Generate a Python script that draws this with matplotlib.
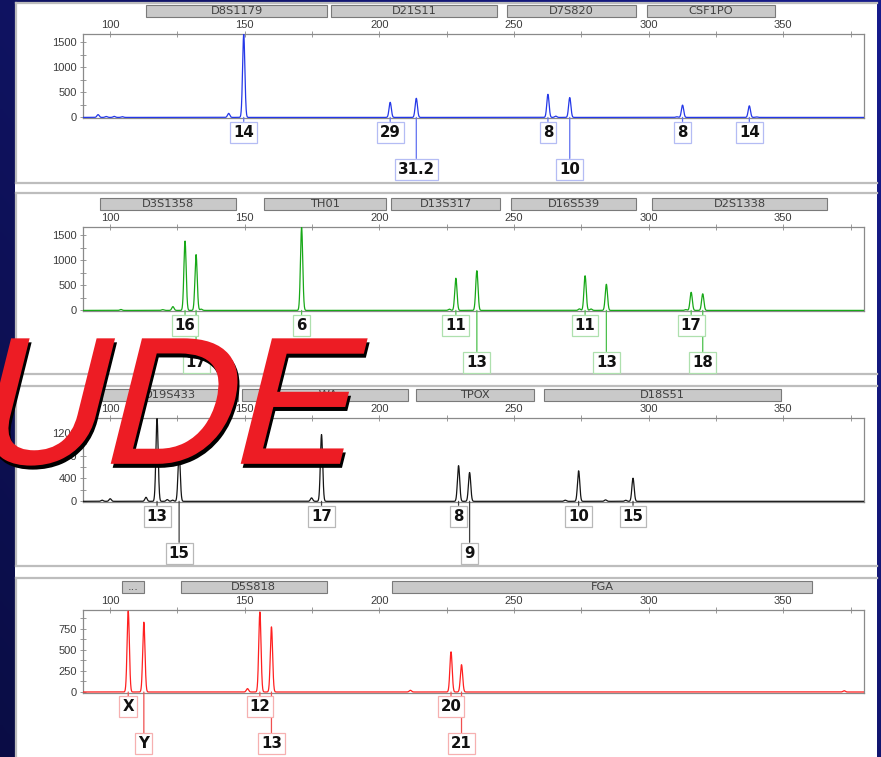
import numpy as np
import matplotlib.pyplot as plt
from matplotlib.patches import Rectangle, PathPatch
from matplotlib.lines import Line2D
from matplotlib.textpath import TextPath
from matplotlib.font_manager import FontProperties
import matplotlib.transforms as mtransforms

W, H = 881, 757

# ---- data: size range, peaks (bp, RFU), allele calls, marker bins ----
x_range = (89.9, 380.0)

blue_peaks = [149.6, 204.0, 213.7, 262.6, 270.7, 312.6, 337.4]
blue_heights = [1650, 300, 380, 460, 395, 245, 230]
blue_alleles = ['14', '29', '31.2', '8', '10', '8', '14']
blue_rows = [0, 0, 1, 0, 1, 0, 0]
blue_minor = [95.5, 98.5, 101.5, 104.5, 144.0, 265.5, 310.5, 340.0]
blue_minor_h = [55, 18, 20, 14, 80, 25, 12, 10]
blue_markers = ['D8S1179', 'D21S11', 'D7S820', 'CSF1PO']
blue_bins = [(113.3, 180.7), (182.2, 243.7), (247.4, 295.2), (299.3, 347.0)]

green_peaks = [127.8, 131.9, 171.1, 228.4, 236.2, 276.4, 284.3, 315.8, 320.1]
green_heights = [1380, 1110, 1650, 640, 790, 690, 520, 360, 330]
green_alleles = ['16', '17', '6', '11', '13', '11', '13', '17', '18']
green_rows = [0, 1, 0, 0, 1, 0, 1, 0, 1]
green_minor = [104.0, 119.5, 123.3, 133.8, 226.0, 274.3, 278.6, 313.8]
green_minor_h = [18, 15, 75, 25, 25, 30, 28, 15]
green_markers = ['D3S1358', 'TH01', 'D13S317', 'D16S539', 'D2S1338']
green_bins = [(96.3, 146.7), (157.0, 202.6), (204.4, 244.8), (249.0, 295.3), (301.2, 366.4)]

black_peaks = [117.4, 125.6, 178.5, 229.4, 233.5, 274.0, 294.2]
black_heights = [1450, 850, 1170, 625, 505, 535, 405]
black_alleles = ['13', '15', '17', '8', '9', '10', '15']
black_rows = [0, 1, 0, 0, 1, 0, 0]
black_minor = [97.0, 100.0, 113.3, 121.2, 123.2, 174.8, 269.0, 284.0, 291.5]
black_minor_h = [20, 45, 70, 30, 20, 60, 20, 25, 18]
black_markers = ['D19S433', 'vWA', 'TPOX', 'D18S51']
black_bins = [(97.0, 147.4), (148.9, 210.7), (213.7, 257.4), (261.1, 349.3)]

red_peaks = [106.7, 112.5, 155.6, 159.9, 226.6, 230.5]
red_heights = [960, 828, 950, 773, 477, 324]
red_alleles = ['X', 'Y', '12', '13', '20', '21']
red_rows = [0, 1, 0, 1, 0, 1]
red_minor = [151.0, 211.5, 372.6]
red_minor_h = [40, 20, 15]
red_markers = ['...', 'D5S818', 'FGA']
red_bins = [(104.4, 112.6), (126.3, 180.4), (204.8, 360.7)]

# pixel layout of the four plot areas (top, bottom) and their y scales
panel_px = [(34, 118), (227, 311), (418, 502), (610, 693)]
y_tops = [1660, 1660, 1460, 973]
y_major = [[0, 500, 1000, 1500], [0, 500, 1000, 1500],
           [0, 400, 800, 1200], [0, 250, 500, 750]]
y_minor = [[250, 750, 1250], [250, 750, 1250],
           [200, 600, 1000, 1400], [125, 375, 625, 875]]
frames = [(3, 183), (193, 374), (386, 566), (578, 760)]
ax_left, ax_right = 83, 864


def fig_rect(x0, y0, x1, y1):
    # pixel box (top-left origin) -> figure fraction rect
    return [x0 / W, 1 - y1 / H, (x1 - x0) / W, (y1 - y0) / H]


fig = plt.figure(figsize=(W / 100, H / 100), dpi=100)

# navy slide background
bg = fig.add_axes([0, 0, 1, 1], zorder=-10)
gx = np.linspace(0, 1, 256)
gy = np.linspace(0, 1, 256)
GX, GY = np.meshgrid(gx, gy)
c0 = np.array([0.04, 0.05, 0.27])
c1 = np.array([0.09, 0.11, 0.55])
t = np.clip(0.6 * GX + 0.4 * (1 - GY), 0, 1)[..., None]
bg.imshow(c0 + (c1 - c0) * t, aspect='auto', extent=[0, 1, 0, 1])
bg.set_axis_off()

# white sheet and panel frames
fig.add_artist(Rectangle((15 / W, 0), (877 - 15) / W, 1 - 3 / H,
                         transform=fig.transFigure, fc='white', ec='none', zorder=-5))
for top, bot in frames:
    for yy in (top, bot):
        fig.add_artist(Line2D([16 / W, 877 / W], [1 - yy / H, 1 - yy / H],
                              transform=fig.transFigure, color='#bdbdbd', lw=1.6, zorder=-4))
    fig.add_artist(Line2D([16 / W, 16 / W], [1 - top / H, 1 - bot / H],
                          transform=fig.transFigure, color='#bdbdbd', lw=1.6, zorder=-4))

panels = [
    (blue_peaks, blue_heights, blue_alleles, blue_rows, blue_minor, blue_minor_h,
     blue_markers, blue_bins, '#2438e8', '#6070f0', '#b4bcf4'),
    (green_peaks, green_heights, green_alleles, green_rows, green_minor, green_minor_h,
     green_markers, green_bins, '#18a818', '#4cc04c', '#aee0ae'),
    (black_peaks, black_heights, black_alleles, black_rows, black_minor, black_minor_h,
     black_markers, black_bins, '#151515', '#404040', '#b8b8b8'),
    (red_peaks, red_heights, red_alleles, red_rows, red_minor, red_minor_h,
     red_markers, red_bins, '#ff2020', '#f05050', '#f6b0b0'),
]

xs = np.linspace(x_range[0], x_range[1], 9000)
sigma = 0.42

for i, (peaks, heights, alleles, rows, mpos, mh, markers, bins, col, lcol, ecol) in enumerate(panels):
    top, bot = panel_px[i]
    hpx = bot - top
    ax = fig.add_axes(fig_rect(ax_left, top, ax_right, bot))
    ax.set_facecolor('white')

    trace = np.zeros_like(xs)
    for p, h in zip(list(peaks) + list(mpos), list(heights) + list(mh)):
        trace += h * np.exp(-0.5 * ((xs - p) / sigma) ** 2)
    ax.plot(xs, trace, color=col, lw=0.9, zorder=3)

    ax.set_xlim(*x_range)
    ax.set_ylim(-12, y_tops[i])
    for s in ax.spines.values():
        s.set_color('#8a8a8a')
        s.set_linewidth(0.9)

    ax.xaxis.tick_top()
    ax.set_xticks([100, 150, 200, 250, 300, 350])
    ax.set_xticks([125, 175, 225, 275, 325, 375], minor=True)
    ax.set_yticks(y_major[i])
    ax.set_yticks(y_minor[i], minor=True)
    ax.tick_params(axis='x', which='both', direction='inout', length=5, width=0.7,
                   color='#999999', labelsize=8, labelcolor='#3c3c3c', pad=0.5)
    ax.tick_params(axis='y', which='both', direction='inout', length=5, width=0.7,
                   color='#999999', labelsize=8, labelcolor='#3c3c3c', pad=2)
    for lab in ax.get_xticklabels() + ax.get_yticklabels():
        lab.set_family('Liberation Sans')

    # marker bins above the axis
    bt = mtransforms.blended_transform_factory(ax.transData, ax.transAxes)
    y0 = 1 + 17 / hpx
    bh = 12 / hpx
    for name, (a, b) in zip(markers, bins):
        ax.add_patch(Rectangle((a, y0), b - a, bh, transform=bt, fc='#c9c9c9',
                               ec='#7a7a7a', lw=0.8, clip_on=False, zorder=2))
        ax.text((a + b) / 2, y0 + bh / 2, name, transform=bt, ha='center', va='center',
                fontsize=8.2, color='#404040', family='DejaVu Sans', clip_on=False)

    # allele call boxes under the peaks
    for p, lab, r in zip(peaks, alleles, rows):
        dy = -15 if r == 0 else -52
        ax.annotate(lab, xy=(p, 0), xycoords='data', xytext=(0, dy),
                    textcoords='offset pixels', ha='center', va='center',
                    fontsize=10.8, fontweight='bold', family='DejaVu Sans', color='#111111',
                    bbox=dict(boxstyle='square,pad=0.2', fc='white', ec=ecol, lw=0.9),
                    arrowprops=dict(arrowstyle='-', color=lcol, lw=0.9,
                                    shrinkA=0, shrinkB=0),
                    annotation_clip=False, zorder=6 if r == 0 else 5)

# red slanted title across the middle, with a black drop shadow
title_path = TextPath((0, 0), 'UDE', size=180,
                      prop=FontProperties(family='Liberation Sans', weight='normal'))
place = mtransforms.Affine2D().skew_deg(14, 0).translate(-33, H - 463)
fig.add_artist(PathPatch(title_path, transform=place + mtransforms.Affine2D().translate(2, -4),
                         fc='black', ec='black', lw=1.2, zorder=19))
fig.add_artist(PathPatch(title_path, transform=place, fc='#ed1c24', ec='#ed1c24',
                         lw=1.2, zorder=20))

fig.savefig('out.png', dpi=100)
